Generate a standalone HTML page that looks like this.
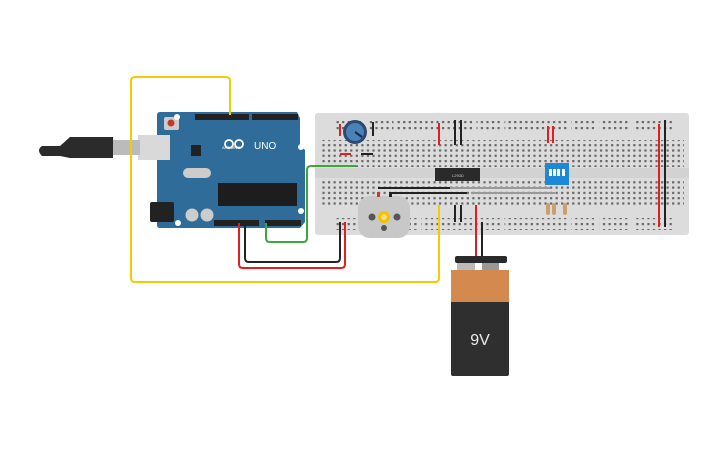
<!DOCTYPE html><html><head><style>body{margin:0;background:#fff}svg{display:block}</style></head><body>
<svg width="725" height="453" viewBox="0 0 725 453" xmlns="http://www.w3.org/2000/svg" font-family="Liberation Sans, sans-serif">
<defs>
<pattern id="h" x="327" y="0" width="5.55" height="5.3" patternUnits="userSpaceOnUse"><rect x="1" y="1" width="2.2" height="2.2" fill="#666"/></pattern>
<pattern id="r" x="330" y="0" width="5.55" height="6" patternUnits="userSpaceOnUse"><rect x="1" y="1" width="2.2" height="2.2" fill="#666"/></pattern>
</defs>
<!-- breadboard -->
<rect x="315" y="113" width="374" height="122" rx="3" fill="#dcdcdc"/>
<rect x="320" y="140" width="364" height="27" fill="url(#h)"/>
<rect x="320" y="179" width="364" height="27" fill="url(#h)"/>
<rect x="335" y="118" width="340" height="12" fill="url(#r)"/>
<rect x="335" y="218" width="340" height="12" fill="url(#r)"/>
<rect x="315" y="168" width="374" height="10" fill="#d2d2d2"/>
<g stroke="#dcdcdc" stroke-width="3">
<line x1="365" y1="116" x2="365" y2="132"/><line x1="395" y1="116" x2="395" y2="132"/><line x1="475" y1="116" x2="475" y2="132"/><line x1="503" y1="116" x2="503" y2="132"/><line x1="570" y1="116" x2="570" y2="132"/><line x1="598" y1="116" x2="598" y2="132"/><line x1="632" y1="116" x2="632" y2="132"/>
<line x1="365" y1="216" x2="365" y2="232"/><line x1="420" y1="216" x2="420" y2="232"/><line x1="503" y1="216" x2="503" y2="232"/><line x1="570" y1="216" x2="570" y2="232"/><line x1="598" y1="216" x2="598" y2="232"/><line x1="632" y1="216" x2="632" y2="232"/>
</g>
<!-- arduino -->
<path d="M160 112 H297 L300 118 V145 L305 150 V222 L300 228 H160 Q157 228 157 225 V115 Q157 112 160 112Z" fill="#2f6c99"/>
<rect x="195" y="114" width="54" height="6" fill="#222"/><rect x="252" y="114" width="46" height="6" fill="#222"/>
<rect x="214" y="220" width="45" height="6" fill="#222"/><rect x="265" y="220" width="36" height="6" fill="#222"/>
<rect x="218" y="183" width="79" height="23" fill="#1d1d1d"/>
<rect x="164" y="117" width="15" height="13" rx="2" fill="#ccc"/><circle cx="171" cy="123" r="3.5" fill="#c0392b"/>
<rect x="191" y="145" width="10" height="11" fill="#222"/>
<rect x="183" y="168" width="28" height="10" rx="5" fill="#ccc"/>
<rect x="150" y="202" width="24" height="20" rx="2" fill="#222"/>
<circle cx="192" cy="215" r="6.5" fill="#ccc"/><circle cx="207" cy="215" r="6.5" fill="#ccc"/>
<rect x="204" y="135" width="22" height="10" fill="none"/>
<text x="222" y="149" fill="#fff" font-size="4">ARDUINO</text>
<text x="254" y="149" fill="#fff" font-size="10">UNO</text>
<circle cx="229" cy="144" r="4" fill="none" stroke="#fff" stroke-width="1.8"/><circle cx="239" cy="144" r="4" fill="none" stroke="#fff" stroke-width="1.8"/>
<circle cx="177" cy="117" r="3" fill="#fff"/><circle cx="301" cy="147" r="3" fill="#fff"/><circle cx="301" cy="211" r="3" fill="#fff"/><circle cx="178" cy="223" r="3" fill="#fff"/>
<!-- usb -->
<rect x="138" y="135" width="32" height="25" fill="#d9d9d9"/>
<rect x="110" y="140" width="30" height="15" fill="#bbb"/>
<path d="M70 137 H113 V158 H70 L60 156 H42 Q36 150 42 146 H60Z" fill="#2b2b2b"/>
<!-- wires -->
<g fill="none" stroke-width="2" stroke-linejoin="round">
<path d="M230 115 V81 Q230 77 226 77 H135 Q131 77 131 81 V278 Q131 282 135 282 H435 Q439 282 439 278 V205" stroke="#f0cc00"/>
<path d="M239 223 V264 Q239 268 243 268 H341 Q345 268 345 264 V222" stroke="#e02020"/>
<path d="M245 223 V258 Q245 262 249 262 H336 Q340 262 340 258 V222" stroke="#222"/>
<path d="M266 223 V238 Q266 242 270 242 H303 Q307 242 307 238 V170 Q307 166 311 166 H356" stroke="#3aa83a"/>
<g stroke="#e02020"><line x1="340" y1="124" x2="340" y2="136"/><line x1="439" y1="123" x2="439" y2="145"/><line x1="548" y1="126" x2="548" y2="143"/><line x1="553" y1="126" x2="553" y2="143"/><line x1="659" y1="124" x2="659" y2="227"/><line x1="340" y1="154" x2="351" y2="154"/><line x1="476" y1="205" x2="476" y2="260"/></g>
<g stroke="#222"><line x1="373" y1="122" x2="373" y2="136"/><line x1="455" y1="120" x2="455" y2="145"/><line x1="461" y1="120" x2="461" y2="145"/><line x1="665" y1="120" x2="665" y2="227"/><line x1="361" y1="154" x2="373" y2="154"/><line x1="378" y1="188" x2="450" y2="188"/><line x1="389" y1="193" x2="467" y2="193"/><line x1="455" y1="205" x2="455" y2="222"/><line x1="461" y1="205" x2="461" y2="222"/><line x1="482" y1="222" x2="482" y2="260"/></g>
<g stroke="#999"><line x1="450" y1="188" x2="550" y2="188"/><line x1="471" y1="193" x2="555" y2="193"/></g>
</g>
<!-- pot -->
<circle cx="355" cy="132" r="12" fill="#2b4a6e"/><circle cx="355" cy="132" r="9" fill="#4a82b8"/><line x1="355" y1="132" x2="362" y2="137" stroke="#1a2a40" stroke-width="2"/>
<!-- chip -->
<rect x="435" y="168" width="45" height="13" fill="#2a2a2a"/><text x="452" y="177" fill="#ccc" font-size="4">L293D</text>
<!-- dip -->
<rect x="545" y="163" width="24" height="22" fill="#1f88d6"/>
<g fill="#fff"><rect x="549" y="169" width="3" height="7"/><rect x="553" y="169" width="3" height="7"/><rect x="557" y="169" width="3" height="7"/><rect x="562" y="169" width="3" height="7"/></g>
<!-- resistors -->
<g fill="#c9a070"><rect x="546" y="203" width="4" height="12" rx="2"/><rect x="552" y="203" width="4" height="12" rx="2"/><rect x="563" y="203" width="4" height="12" rx="2"/></g>
<!-- motor -->
<rect x="358" y="196" width="52" height="42" rx="12" fill="#c8c8c8"/>
<circle cx="372" cy="217" r="3.5" fill="#555"/><circle cx="397" cy="217" r="3.5" fill="#555"/><circle cx="384" cy="228" r="3" fill="#555"/>
<circle cx="384" cy="217" r="6" fill="#f2c200"/><circle cx="384" cy="217" r="3" fill="#f7e07a"/>
<rect x="377" y="192" width="3" height="5" fill="#c33"/><rect x="389" y="192" width="3" height="5" fill="#222"/>
<!-- battery -->
<rect x="455" y="256" width="52" height="7" rx="2" fill="#2a2a2a"/>
<rect x="457" y="263" width="18" height="7" fill="#bbb"/><rect x="482" y="263" width="17" height="7" fill="#999"/>
<rect x="451" y="270" width="58" height="106" rx="2" fill="#2f2f2f"/>
<rect x="451" y="270" width="58" height="32" fill="#d48a4e"/>
<text x="480" y="345" fill="#eee" font-size="16" text-anchor="middle">9V</text>
</svg>
</body></html>
